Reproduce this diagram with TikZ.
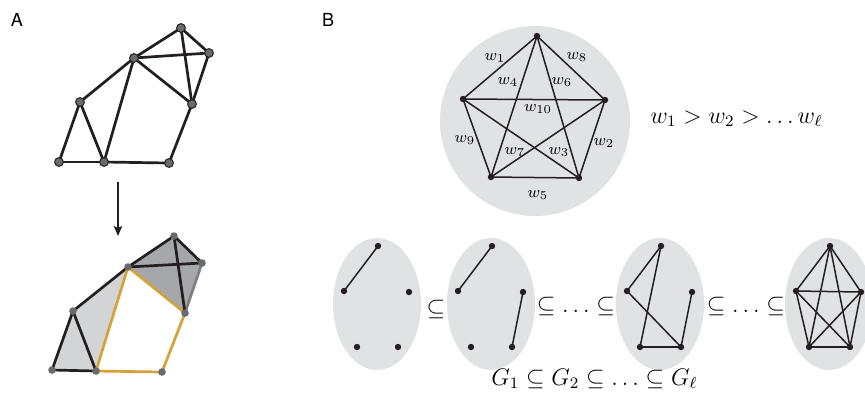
\documentclass[tikz,border=0pt]{standalone}
\usepackage{amsmath}
\usepackage{fontspec}
\setsansfont{TeX Gyre Heros}
\usepackage{tikz}
\usetikzlibrary{arrows.meta}

\definecolor{ink}{RGB}{35,31,32}
\definecolor{dotgray}{RGB}{105,106,110}
\definecolor{bubble}{RGB}{225,226,228}
\definecolor{darkpatch}{RGB}{165,167,171}
\definecolor{lightpatch}{RGB}{210,212,213}
\definecolor{softedge}{RGB}{125,127,131}
\definecolor{cyclegold}{RGB}{212,162,56}

\tikzset{
  panel/.style={font=\sffamily\small, inner sep=0pt},
  aedge/.style={draw=ink, line width=1.35pt},
  goldedge/.style={draw=cyclegold, line width=1.35pt},
  adot/.style={circle, fill=dotgray, draw=ink, line width=0.5pt, inner sep=0pt, minimum size=4.4pt},
  bdot/.style={circle, fill=dotgray, inner sep=0pt, minimum size=3.8pt},
  kedge/.style={draw=ink, line width=0.75pt},
  kdot/.style={circle, fill=ink, inner sep=0pt, minimum size=3.2pt},
  wlab/.style={font=\footnotesize, inner sep=0.5pt},
  rel/.style={font=\large, inner sep=0pt},
}

\begin{document}
\begin{tikzpicture}[x=0.5pt,y=0.5pt,yscale=-1,xscale=1]
\useasboundingbox (0,0) rectangle (865,404);
\clip (0,0) rectangle (865,404);

% Text Node
\node [panel] (labA) at (17,19.5) {A};
% Text Node
\node [panel] (labB) at (328,19.5) {B};

%Graph (panel A, top)
\coordinate (a1) at (181,28);
\coordinate (a2) at (209,53);
\coordinate (a3) at (134,58);
\coordinate (a4) at (192,104);
\coordinate (a5) at (80,102);
\coordinate (a6) at (59,162);
\coordinate (a7) at (104,162);
\coordinate (a8) at (169,163);
\foreach \u/\v in {a3/a1,a1/a2,a3/a2,a1/a4,a2/a4,a3/a4,a3/a5,a3/a7,a5/a6,a5/a7,a6/a7,a7/a8,a8/a4}
  \draw [aedge] (\u) -- (\v);
\foreach \i in {1,...,8}
  \node [adot] (da\i) at (a\i) {};

%Straight Lines (arrow)
\coordinate (arrtop) at (118,182);
\coordinate (arrbot) at (118,236);
\draw [draw=ink, line width=0.6pt, -{Stealth[length=5pt,width=4.2pt,inset=1pt]}] (arrtop) -- (arrbot);

%Graph (panel A, bottom)
\coordinate (b1) at (174,236);
\coordinate (b2) at (202,263);
\coordinate (b3) at (128,267);
\coordinate (b4) at (185,313);
\coordinate (b5) at (73,311);
\coordinate (b6) at (52,370);
\coordinate (b7) at (96,371);
\coordinate (b8) at (162,372);
\fill [darkpatch] (b3) -- (b1) -- (b2) -- (b4) -- cycle;
\fill [lightpatch] (b5) -- (b3) -- (b7) -- (b6) -- cycle;
\draw [aedge, draw=softedge] (b2) -- (b4);
\foreach \u/\v in {b3/b1,b1/b2,b3/b2,b1/b4,b5/b3,b5/b6,b5/b7,b6/b7}
  \draw [aedge] (\u) -- (\v);
\foreach \u/\v in {b3/b4,b3/b7,b7/b8,b8/b4}
  \draw [goldedge] (\u) -- (\v);
\foreach \i in {1,...,8}
  \node [bdot] (db\i) at (b\i) {};

%Shape: Circle
\fill [bubble] (535,121) circle (95);
\coordinate (p1) at (537,36);
\coordinate (p2) at (605,100);
\coordinate (p3) at (579,178);
\coordinate (p4) at (491,177);
\coordinate (p5) at (463,99);
\foreach \u/\v in {1/2,1/3,1/4,1/5,2/3,2/4,2/5,3/4,3/5,4/5}
  \draw [kedge] (p\u) -- (p\v);
\foreach \i in {1,...,5}
  \node [kdot] (dp\i) at (p\i) {};

% Text Node
\node [wlab] (w1) at (495,58) {$w_1$};
\node [wlab] (w2) at (604,143) {$w_2$};
\node [wlab] (w3) at (559,152) {$w_3$};
\node [wlab] (w4) at (508,82) {$w_4$};
\node [wlab] (w5) at (538,195) {$w_5$};
\node [wlab] (w6) at (562,82) {$w_6$};
\node [wlab] (w7) at (515,152) {$w_7$};
\node [wlab] (w8) at (577,57) {$w_8$};
\node [wlab] (w9) at (465,140) {$w_9$};
\node [wlab] (w10) at (538,109) {$w_{10}$};

% Text Node
\node [rel, anchor=base west] (order) at (650,123) {$w_1 > w_2 > \ldots w_\ell$};

%Shape: Ellipse (nested graphs)
\foreach \g/\cx in {1/377,2/491,3/660,4/829}{
  \fill [bubble] (\cx,304) ellipse (44 and 66);
  \coordinate (g\g p1) at (\cx+1,246);
  \coordinate (g\g p2) at (\cx+32,292);
  \coordinate (g\g p3) at (\cx+21,347);
  \coordinate (g\g p4) at (\cx-20,347);
  \coordinate (g\g p5) at (\cx-33,291);
}
\foreach \u/\v in {1/5}
  \draw [kedge] (g1p\u) -- (g1p\v);
\foreach \u/\v in {1/5,2/3}
  \draw [kedge] (g2p\u) -- (g2p\v);
\foreach \u/\v in {1/5,1/4,5/3,4/3,2/3}
  \draw [kedge] (g3p\u) -- (g3p\v);
\foreach \u/\v in {1/2,1/3,1/4,1/5,2/3,2/4,2/5,3/4,3/5,4/5}
  \draw [kedge] (g4p\u) -- (g4p\v);
\foreach \g in {1,...,4}
  \foreach \i in {1,...,5}
    \node [kdot] (dg\g p\i) at (g\g p\i) {};

% Text Node
\node [rel] (sub12) at (436,309) {$\subseteq$};
\node [rel] (sub23) at (576,306) {$\subseteq \ldots \subseteq$};
\node [rel] (sub34) at (746,306) {$\subseteq \ldots \subseteq$};
% Text Node
\node [rel, anchor=base west] (chain) at (491,385) {$G_1 \subseteq G_2 \subseteq \ldots \subseteq G_\ell$};

\end{tikzpicture}
\end{document}
